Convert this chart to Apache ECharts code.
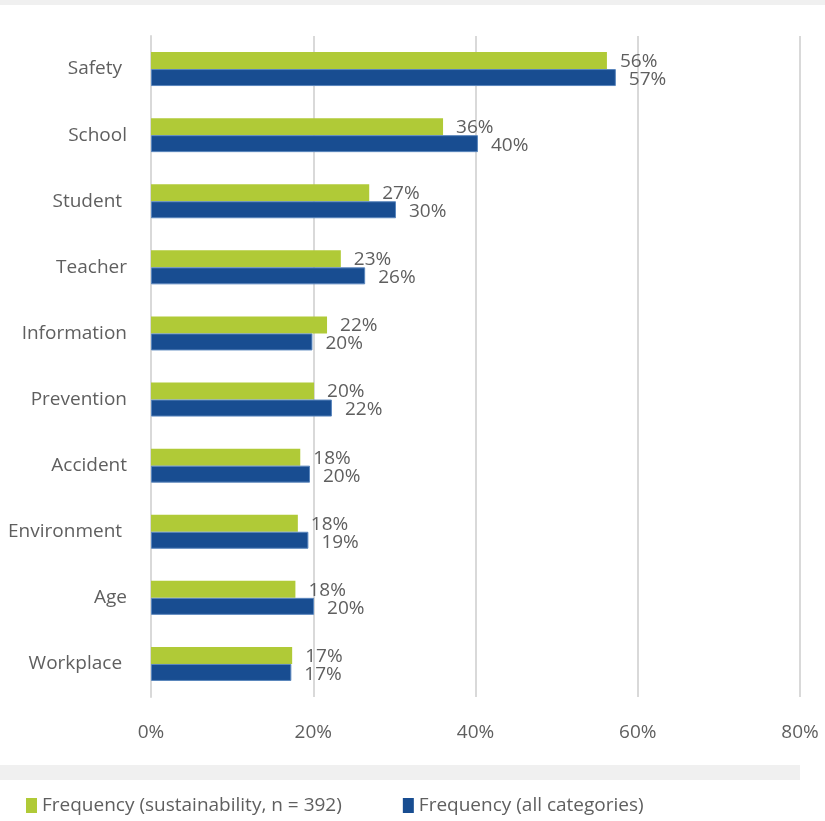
<!DOCTYPE html>
<html>
<head>
<meta charset="utf-8">
<script src="https://cdn.jsdelivr.net/npm/echarts@6/dist/echarts.min.js"></script>
<style>
  html, body { margin: 0; padding: 0; background: #ffffff; }
  #topband { position: absolute; left: 0; top: 0; width: 825px; height: 5px; background: #f0f0f0; }
  #midband { position: absolute; left: 0; top: 765px; width: 800px; height: 15px; background: #f0f0f0; }
  #chart { position: absolute; left: 0; top: 0; width: 825px; height: 821px; }
</style>
</head>
<body>
<div id="topband"></div>
<div id="midband"></div>
<div id="chart"></div>
<script>
// Term categories, listed top to bottom
const categories = ['Safety ', 'School', 'Student ', 'Teacher', 'Information',
                    'Prevention', 'Accident', 'Environment ', 'Age', 'Workplace '];
// Share of documents mentioning each term (%)
const sustainability = [56.2, 36.0, 26.9, 23.4, 21.7, 20.1, 18.4, 18.1, 17.8, 17.4];
const allCategories  = [57.3, 40.3, 30.2, 26.4, 19.9, 22.3, 19.6, 19.4, 20.1, 17.3];
const seriesNames = ['Frequency (sustainability, n = 392)', 'Frequency (all categories)'];
const xTicks = [0, 20, 40, 60, 80];

const FONT = '"Open Sans", "Noto Sans", sans-serif';
const TEXT = '#5f5f5f';
const FS = 19;

const chart = echarts.init(document.getElementById('chart'), null, { renderer: 'canvas' });

const labelCfg = {
  show: true,
  position: 'right',
  distance: 13,
  color: TEXT,
  fontFamily: FONT,
  fontSize: FS,
  formatter: p => Math.round(p.value) + '%'
};

chart.setOption({
  animation: false,
  textStyle: { fontFamily: FONT },
  grid: { left: 151, right: 25, top: 36, bottom: 124, containLabel: false },
  legend: {
    bottom: 1,
    left: 21,
    itemGap: 61,
    itemWidth: 11,
    itemHeight: 15,
    icon: 'rect',
    itemStyle: { borderWidth: 0 },
    textStyle: { color: TEXT, fontSize: FS, fontFamily: FONT },
    data: seriesNames
  },
  xAxis: {
    type: 'value',
    min: xTicks[0],
    max: xTicks[xTicks.length - 1],
    interval: 20,
    axisLine: { show: false },
    axisTick: { show: false },
    axisLabel: { color: TEXT, fontSize: FS, fontFamily: FONT, margin: 26, formatter: v => v + '%' },
    splitLine: { lineStyle: { color: '#d9d9d9', width: 2 } }
  },
  yAxis: {
    type: 'category',
    inverse: true,
    data: categories,
    axisLine: { show: true, lineStyle: { color: '#d9d9d9', width: 2 } },
    axisTick: { show: false },
    axisLabel: { color: TEXT, fontSize: FS, fontFamily: FONT, margin: 24, padding: [3, 0, 0, 0] }
  },
  series: [
    {
      name: seriesNames[0],
      type: 'bar',
      data: sustainability,
      barWidth: 17,
      barGap: '0%',
      itemStyle: { color: '#b0ca37' },
      label: Object.assign({}, labelCfg, { offset: [0, 1] })
    },
    {
      name: seriesNames[1],
      type: 'bar',
      data: allCategories,
      barWidth: 17,
      barGap: '0%',
      itemStyle: { color: '#184d91', borderColor: '#5a86bd', borderWidth: 1 },
      label: Object.assign({}, labelCfg, { offset: [0, 2] })
    }
  ]
});
</script>
</body>
</html>
